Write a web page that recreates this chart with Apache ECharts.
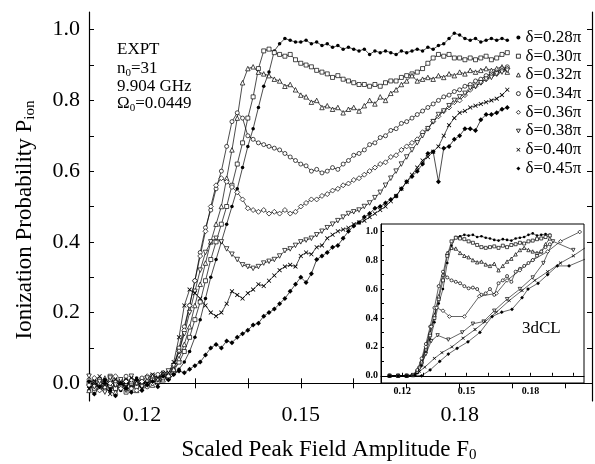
<!DOCTYPE html>
<html><head><meta charset="utf-8">
<script src="https://cdn.jsdelivr.net/npm/echarts@6/dist/echarts.min.js"></script>
<style>html,body{margin:0;padding:0;background:#fff}#c{width:595px;height:464px}</style>
</head><body><div id="c"></div>
<script>
// ---------- data ----------
const NAMES = ['δ=0.28π','δ=0.30π','δ=0.32π','δ=0.34π','δ=0.36π','δ=0.38π','δ=0.40π','δ=0.45π'];

const F_MAIN = [
0.110,0.111,0.112,0.113,0.114,0.115,0.116,0.117,0.118,0.119,
0.120,0.121,0.122,0.123,0.124,0.125,0.126,0.127,0.128,0.129,
0.130,0.131,0.132,0.133,0.134,0.135,0.136,0.137,0.138,0.139,
0.140,0.141,0.142,0.143,0.144,0.145,0.146,0.147,0.148,0.149,
0.150,0.151,0.152,0.153,0.154,0.155,0.156,0.157,0.158,0.159,
0.160,0.161,0.162,0.163,0.164,0.165,0.166,0.167,0.168,0.169,
0.170,0.171,0.172,0.173,0.174,0.175,0.176,0.177,0.178,0.179,
0.180,0.181,0.182,0.183,0.184,0.185,0.186,0.187,0.188,0.189];

const P_028 = [
-0.01,0.01,-0.02,0.005,-0.015,0.0,-0.02,0.01,-0.01,0.015,
-0.005,0.005,0.01,0.0,0.015,0.01,0.025,0.04,0.06,0.09,
0.13,0.18,0.24,0.30,0.35,0.40,0.45,0.50,0.55,0.61,
0.67,0.72,0.78,0.84,0.88,0.94,0.96,0.975,0.97,0.965,
0.965,0.97,0.96,0.965,0.955,0.96,0.95,0.955,0.945,0.95,
0.945,0.94,0.945,0.93,0.94,0.935,0.94,0.935,0.93,0.94,
0.935,0.94,0.945,0.94,0.95,0.945,0.955,0.96,0.975,0.99,
0.985,0.975,0.97,0.975,0.965,0.97,0.975,0.97,0.975,0.97];

const P_030 = [
0.0,-0.02,0.01,-0.01,0.02,-0.015,0.005,-0.025,0.0,-0.01,
0.01,-0.005,0.015,0.005,0.02,0.015,0.035,0.06,0.09,0.13,
0.18,0.23,0.29,0.35,0.40,0.45,0.50,0.56,0.62,0.68,
0.75,0.81,0.89,0.94,0.945,0.935,0.93,0.925,0.93,0.915,
0.905,0.90,0.895,0.885,0.88,0.875,0.865,0.87,0.86,0.855,
0.85,0.845,0.845,0.84,0.845,0.84,0.85,0.855,0.855,0.865,
0.87,0.875,0.88,0.89,0.905,0.92,0.93,0.925,0.93,0.92,
0.92,0.915,0.92,0.915,0.92,0.925,0.915,0.92,0.93,0.935];

const P_032 = [
-0.02,0.0,-0.01,0.015,-0.005,-0.025,0.01,-0.01,0.005,-0.02,
0.0,0.01,-0.005,0.02,0.01,0.025,0.04,0.07,0.11,0.16,
0.22,0.28,0.34,0.40,0.45,0.50,0.58,0.66,0.75,0.85,
0.89,0.895,0.88,0.875,0.87,0.86,0.855,0.84,0.845,0.83,
0.815,0.81,0.795,0.80,0.78,0.785,0.775,0.78,0.765,0.775,
0.78,0.77,0.785,0.80,0.79,0.81,0.80,0.82,0.83,0.845,
0.855,0.87,0.855,0.86,0.865,0.86,0.87,0.865,0.875,0.87,
0.88,0.875,0.885,0.88,0.885,0.89,0.885,0.89,0.895,0.88];

const P_034 = [
0.01,-0.015,0.0,-0.02,0.01,0.005,-0.01,0.02,-0.015,0.0,
0.015,-0.01,0.01,0.025,0.015,0.03,0.05,0.10,0.16,0.22,
0.29,0.37,0.44,0.49,0.55,0.60,0.67,0.74,0.765,0.75,
0.70,0.69,0.68,0.675,0.67,0.665,0.66,0.65,0.64,0.63,
0.62,0.615,0.60,0.605,0.595,0.60,0.61,0.605,0.62,0.63,
0.645,0.65,0.66,0.675,0.68,0.695,0.70,0.715,0.72,0.735,
0.74,0.75,0.76,0.77,0.78,0.79,0.80,0.81,0.815,0.825,
0.83,0.84,0.845,0.855,0.86,0.87,0.875,0.88,0.89,0.895];

const P_036 = [
-0.005,0.015,-0.02,-0.01,0.0,0.02,-0.015,0.005,0.01,-0.02,
0.005,0.02,0.0,0.01,0.03,0.02,0.05,0.09,0.15,0.22,
0.29,0.36,0.43,0.50,0.56,0.58,0.57,0.555,0.54,0.52,
0.495,0.49,0.485,0.49,0.48,0.485,0.48,0.49,0.48,0.485,
0.50,0.51,0.52,0.52,0.53,0.535,0.545,0.55,0.56,0.565,
0.575,0.58,0.59,0.60,0.61,0.62,0.625,0.64,0.645,0.66,
0.67,0.68,0.69,0.71,0.72,0.74,0.755,0.77,0.78,0.795,
0.80,0.815,0.83,0.84,0.85,0.86,0.87,0.875,0.885,0.89];

const P_038 = [
0.02,-0.01,0.005,-0.025,0.015,-0.005,0.01,-0.02,0.02,0.0,
-0.01,0.015,0.02,0.01,0.025,0.035,0.05,0.09,0.14,0.20,
0.26,0.32,0.37,0.40,0.41,0.40,0.38,0.365,0.35,0.335,
0.33,0.325,0.33,0.34,0.345,0.35,0.36,0.375,0.38,0.39,
0.40,0.405,0.41,0.42,0.43,0.44,0.45,0.46,0.47,0.48,
0.485,0.49,0.50,0.51,0.525,0.54,0.56,0.58,0.60,0.62,
0.64,0.66,0.68,0.70,0.72,0.74,0.76,0.77,0.785,0.80,
0.81,0.82,0.835,0.84,0.85,0.86,0.865,0.875,0.88,0.885];

const P_040 = [
-0.015,0.0,0.02,-0.005,-0.03,0.01,0.0,-0.01,0.015,0.005,
-0.015,0.0,0.025,0.015,0.03,0.03,0.06,0.13,0.22,0.265,
0.255,0.24,0.22,0.20,0.19,0.20,0.225,0.26,0.25,0.24,
0.255,0.265,0.28,0.275,0.29,0.305,0.32,0.33,0.335,0.33,
0.36,0.37,0.365,0.385,0.39,0.41,0.42,0.43,0.435,0.44,
0.45,0.455,0.46,0.47,0.48,0.49,0.50,0.515,0.53,0.55,
0.57,0.59,0.61,0.63,0.64,0.655,0.67,0.70,0.73,0.75,
0.765,0.77,0.78,0.785,0.79,0.795,0.80,0.805,0.815,0.83];

const P_045 = [
0.005,-0.03,-0.01,0.01,-0.02,-0.035,0.0,-0.015,-0.025,0.01,
-0.02,-0.005,0.005,-0.01,0.02,0.01,0.025,0.035,0.03,0.04,
0.05,0.06,0.08,0.10,0.11,0.10,0.12,0.115,0.13,0.14,
0.15,0.165,0.17,0.19,0.20,0.21,0.225,0.24,0.26,0.28,
0.30,0.285,0.31,0.35,0.36,0.37,0.385,0.39,0.41,0.43,
0.445,0.455,0.47,0.48,0.495,0.50,0.51,0.52,0.53,0.55,
0.57,0.585,0.60,0.62,0.65,0.655,0.57,0.665,0.67,0.69,
0.70,0.72,0.72,0.715,0.745,0.76,0.76,0.765,0.775,0.78];

// inset (3dCL) data
const FI_DENSE = [0.114,0.118,0.122,0.125,0.127,0.129,0.131,0.133,0.135,0.137,0.139,0.141,0.143,0.145,0.147,0.149,0.151,0.153,0.155,0.157,0.159,0.161,0.163,0.165,0.167,0.169,0.171,0.173,0.175,0.177,0.179,0.181,0.183,0.185,0.187,0.189];
const PI_028 = [0,0,0,0.005,0.02,0.07,0.16,0.25,0.37,0.50,0.60,0.78,0.90,0.96,0.965,0.975,0.97,0.975,0.96,0.965,0.955,0.95,0.94,0.935,0.945,0.94,0.935,0.95,0.955,0.96,0.975,0.985,0.97,0.975,0.98,0.975];
const PI_030 = [0,0,0,0.005,0.03,0.09,0.18,0.28,0.40,0.53,0.66,0.83,0.93,0.955,0.95,0.945,0.93,0.92,0.905,0.89,0.885,0.89,0.895,0.885,0.90,0.89,0.905,0.91,0.92,0.915,0.93,0.935,0.945,0.95,0.96,0.97];
const PI_032 = [0,0,0,0.005,0.03,0.10,0.19,0.30,0.42,0.55,0.70,0.85,0.885,0.88,0.85,0.83,0.82,0.80,0.785,0.79,0.77,0.76,0.775,0.73,0.76,0.79,0.81,0.84,0.87,0.885,0.87,0.86,0.85,0.86,0.91,0.95];
const PI_034 = [0,0,0,0.005,0.04,0.12,0.22,0.34,0.47,0.62,0.72,0.68,0.66,0.65,0.64,0.62,0.605,0.61,0.60,0.56,0.57,0.60,0.56,0.64,0.66,0.69,0.65,0.72,0.74,0.76,0.78,0.80,0.83,0.86,0.89,0.91];
const FI_036 = [0.114,0.118,0.122,0.125,0.128,0.131,0.1335,0.136,0.139,0.142,0.149,0.156,0.164,0.169,0.175,0.181,0.188,0.194,0.203];
const PI_036 = [0,0,0,0.005,0.06,0.20,0.34,0.47,0.45,0.41,0.41,0.55,0.57,0.66,0.73,0.80,0.86,0.93,0.995];
const FI_038 = [0.114,0.118,0.122,0.125,0.128,0.131,0.1335,0.1365,0.1415,0.148,0.153,0.158,0.163,0.169,0.175,0.181,0.186,0.1905,0.200];
const PI_038 = [0,0,0,0.005,0.05,0.15,0.24,0.28,0.25,0.30,0.36,0.375,0.45,0.53,0.60,0.68,0.78,0.93,0.87];
const FI_040 = [0.114,0.118,0.122,0.125,0.128,0.1305,0.135,0.1385,0.1432,0.1484,0.154,0.1587,0.164,0.170,0.176,0.182,0.188,0.194,0.200,0.206];
const PI_040 = [0,0,0,0.005,0.03,0.06,0.12,0.16,0.20,0.26,0.32,0.375,0.44,0.52,0.59,0.66,0.72,0.78,0.83,0.89];
const FI_045 = [0.114,0.118,0.122,0.126,0.129,0.133,0.1375,0.1415,0.1456,0.1507,0.1563,0.162,0.1665,0.1713,0.176,0.1788,0.1835,0.188,0.1925,0.198,0.206];
const PI_045 = [0,0,0,0.005,0.0,0.04,0.10,0.15,0.19,0.235,0.30,0.41,0.44,0.46,0.54,0.60,0.64,0.70,0.76,0.76,0.81];

const Y_LABELS = [0.0,0.2,0.4,0.6,0.8,1.0];
const Y_TICKS = [0.0,0.1,0.2,0.3,0.4,0.5,0.6,0.7,0.8,0.9,1.0];
const X_LABELS = [0.12,0.15,0.18];
const X_TICKS = [0.12,0.13,0.14,0.15,0.16,0.17,0.18,0.19,0.20];

// ---------- styles ----------
const FONT = '"Liberation Serif","Times New Roman",serif';
const XPATH = 'path://M0,1.2L1.2,0L5,3.8L8.8,0L10,1.2L6.2,5L10,8.8L8.8,10L5,6.2L1.2,10L0,8.8L3.8,5Z';
const VPATH = 'path://M0,0L10,0L5,9Z';
const MARK = [
  {symbol:'circle', size:3.5, empty:false},
  {symbol:'rect', size:4, empty:true},
  {symbol:'triangle', size:4.5, empty:true},
  {symbol:'circle', size:4, empty:true},
  {symbol:'diamond', size:5, empty:true},
  {symbol:VPATH, size:4.5, empty:true},
  {symbol:XPATH, size:4.5, empty:false},
  {symbol:'diamond', size:5, empty:false}
];
const MAIN_P = [P_028,P_030,P_032,P_034,P_036,P_038,P_040,P_045];
const INSET = [[FI_DENSE,PI_028],[FI_DENSE,PI_030],[FI_DENSE,PI_032],[FI_DENSE,PI_034],[FI_036,PI_036],[FI_038,PI_038],[FI_040,PI_040],[FI_045,PI_045]];

function pairs(xs, ys){ return xs.map((x,i)=>[x, ys[i]]); }
function itemStyle(m){ return m.empty ? {color:'#fff', borderColor:'#000', borderWidth:0.7} : {color:'#000', borderWidth:0}; }

const series = [];
MAIN_P.forEach((p,i)=>{
  const m = MARK[i];
  series.push({
    name: NAMES[i], type:'line', xAxisIndex:0, yAxisIndex:0,
    data: pairs(F_MAIN, p), symbol:m.symbol, symbolSize:m.size, showAllSymbol:true,
    itemStyle:itemStyle(m), lineStyle:{color:'#000', width:0.7}, z:2, animation:false
  });
});
INSET.forEach((d,i)=>{
  const m = MARK[i];
  series.push({
    name: 'inset ' + NAMES[i], type:'line', xAxisIndex:2, yAxisIndex:2,
    data: pairs(d[0], d[1]), symbol:m.symbol, symbolSize:m.size*0.75, showAllSymbol:true,
    itemStyle:itemStyle(m), lineStyle:{color:'#000', width:0.6}, z:12, animation:false
  });
});

const axLine = {show:true, lineStyle:{color:'#000', width:1.2}};
const mainTickX = {show:true, inside:true, length:5, customValues:X_TICKS, lineStyle:{color:'#000', width:1}};
const mainTickY = {show:true, inside:true, length:5, customValues:Y_TICKS, lineStyle:{color:'#000', width:1}};

const option = {
  backgroundColor:'#fff',
  animation:false,
  grid:[
    {left:89, top:12, width:503, height:389, show:false},
    {left:381, top:224, width:203, height:159, show:true, backgroundColor:'#fff', borderColor:'#000', borderWidth:1, z:10}
  ],
  xAxis:[
    {gridIndex:0, type:'value', min:0.11, max:0.205, position:'bottom', axisLine:axLine, axisTick:mainTickX,
     axisLabel:{customValues:X_LABELS, formatter:v=>v.toFixed(2), fontFamily:FONT, fontSize:22, color:'#000', margin:3},
     splitLine:{show:false}},
    {gridIndex:0, type:'value', min:0.11, max:0.205, position:'top', axisLine:axLine, axisTick:mainTickX,
     axisLabel:{show:false}, splitLine:{show:false}},
    {gridIndex:1, type:'value', min:0.11, max:0.205, position:'bottom', z:11,
     axisLine:{show:true, lineStyle:{color:'#000', width:1}},
     axisTick:{show:true, inside:true, length:3, customValues:X_TICKS, lineStyle:{color:'#000'}},
     axisLabel:{customValues:X_LABELS, formatter:v=>v.toFixed(2), fontFamily:FONT, fontSize:10, fontWeight:'bold', color:'#000', margin:3},
     splitLine:{show:false}}
  ],
  yAxis:[
    {gridIndex:0, type:'value', min:-0.05, max:1.05, position:'left', axisLine:axLine, axisTick:mainTickY,
     axisLabel:{customValues:Y_LABELS, formatter:v=>v.toFixed(1), fontFamily:FONT, fontSize:22, color:'#000', margin:9},
     splitLine:{show:false}},
    {gridIndex:0, type:'value', min:-0.05, max:1.05, position:'right', axisLine:axLine, axisTick:mainTickY,
     axisLabel:{show:false}, splitLine:{show:false}},
    {gridIndex:1, type:'value', min:-0.05, max:1.05, position:'left', z:11,
     axisLine:{show:true, lineStyle:{color:'#000', width:1}},
     axisTick:{show:true, inside:true, length:3, customValues:Y_TICKS, lineStyle:{color:'#000'}},
     axisLabel:{customValues:Y_LABELS, formatter:v=>v.toFixed(1), fontFamily:FONT, fontSize:10, fontWeight:'bold', color:'#000', margin:3},
     splitLine:{show:false}}
  ],
  legend:{
    orient:'vertical', left:511, top:20, itemWidth:4, itemHeight:4, itemGap:-6.3, selectedMode:false,
    textStyle:{fontFamily:FONT, fontSize:17, color:'#000', lineHeight:17, padding:[8,0,0,0]},
    data: NAMES.map((n,i)=>({name:n, icon:MARK[i].symbol,
      itemStyle: MARK[i].empty ? {color:'#fff', borderColor:'#000', borderWidth:0.8} : {color:'#000', borderWidth:0}}))
  },
  graphic:[
    {type:'text', x:117, y:50, z:20, style:{text:'EXPT', font:'17px '+FONT, fill:'#000', verticalAlign:'middle'}},
    {type:'text', x:117, y:69, z:20, style:{text:'{a|n}{s|0}{a|=31}', fill:'#000', verticalAlign:'middle',
      rich:{a:{fontFamily:FONT, fontSize:17, lineHeight:19}, s:{fontFamily:FONT, fontSize:11, lineHeight:7, verticalAlign:'bottom'}}}},
    {type:'text', x:117, y:87, z:20, style:{text:'9.904 GHz', font:'17px '+FONT, fill:'#000', verticalAlign:'middle'}},
    {type:'text', x:117, y:104, z:20, style:{text:'{a|Ω}{s|0}{a|=0.0449}', fill:'#000', verticalAlign:'middle',
      rich:{a:{fontFamily:FONT, fontSize:17, lineHeight:19}, s:{fontFamily:FONT, fontSize:11, lineHeight:7, verticalAlign:'bottom'}}}},
    {type:'text', x:522, y:329, z:20, style:{text:'3dCL', font:'17px '+FONT, fill:'#000', verticalAlign:'middle'}},
    {type:'text', x:329, y:450, z:20, style:{text:'{a|Scaled Peak Field Amplitude F}{s|0}', fill:'#000', align:'center', verticalAlign:'middle',
      rich:{a:{fontFamily:FONT, fontSize:23, lineHeight:26}, s:{fontFamily:FONT, fontSize:15, lineHeight:10, verticalAlign:'bottom'}}}},
    {type:'text', x:25, y:220, rotation:Math.PI/2, z:20, style:{text:'{a|Ionization Probability P}{s|ion}', fill:'#000', align:'center', verticalAlign:'middle',
      rich:{a:{fontFamily:FONT, fontSize:23, lineHeight:26}, s:{fontFamily:FONT, fontSize:15, lineHeight:10, verticalAlign:'bottom'}}}}
  ],
  series: series
};
const chart = echarts.init(document.getElementById('c'), null, {renderer:'canvas'});
chart.setOption(option);
</script>
</body></html>
